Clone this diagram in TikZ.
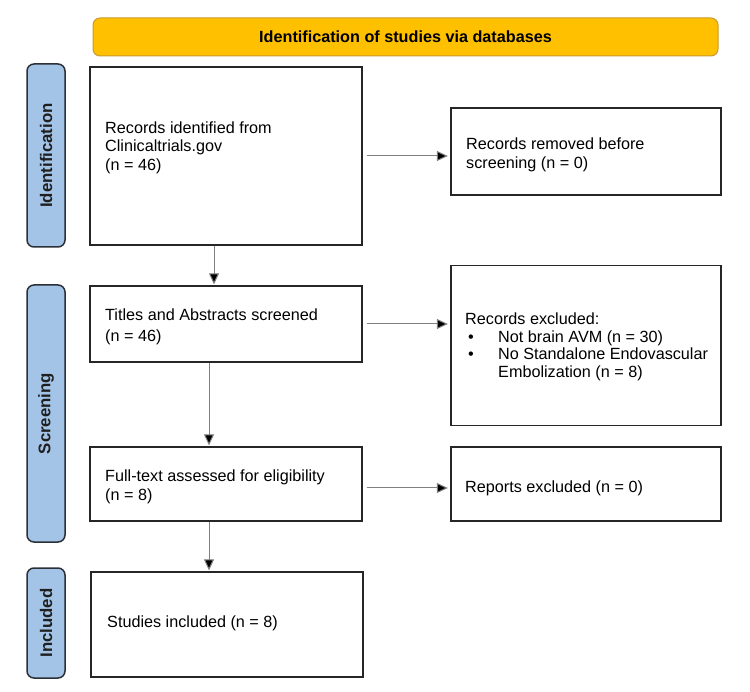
\documentclass[tikz,border=0pt]{standalone}
\usepackage{fontspec}
\setmainfont{Liberation Sans}
\usetikzlibrary{arrows.meta,calc}
\definecolor{hdrfill}{HTML}{FFC000}
\definecolor{hdrline}{HTML}{C99A2E}
\definecolor{barfill}{HTML}{A3C4E6}
\definecolor{barline}{HTML}{2B2F36}
\definecolor{arrline}{HTML}{808080}
\tikzset{
  boxnode/.style={draw=black!85, line width=1.3pt, minimum width=#1, inner sep=0pt},
  hdrnode/.style={draw=hdrline, fill=hdrfill, line width=1pt, rounded corners=7pt, inner sep=0pt,
     minimum width=625pt, minimum height=38pt, font=\fontsize{16.2}{19}\selectfont\bfseries},
  barnode/.style={draw=barline, fill=barfill, line width=1.5pt, rounded corners=7pt, inner sep=0pt,
     minimum width=38pt},
  barlabel/.style={rotate=90, font=\fontsize{16.8}{19}\selectfont\bfseries, text=black!88},
  txt/.style={anchor=west, inner sep=0pt, align=left, font=\fontsize{16.2}{18.6}\selectfont},
  arr/.style={draw=arrline, line width=1pt, -{Triangle[length=11pt,width=10pt,fill=black]}},
}
\begin{document}
\begin{tikzpicture}[x=1pt,y=-1pt]
\useasboundingbox (0,0) rectangle (750,692);
% header
\node[hdrnode] (hdr) at (405.5,37) {Identification of studies via databases};
% side bars
\node[barnode, minimum height=183pt] (barid) at (46,155.5) {};
\node[barlabel] (lblid) at (barid.center) {Identification};
\node[barnode, minimum height=257pt] (barsc) at (46,413.5) {};
\node[barlabel] (lblsc) at (barsc.center) {Screening};
\node[barnode, minimum height=110pt] (barin) at (46,623) {};
\node[barlabel] (lblin) at (barin.center) {Included};
% boxes
\node[boxnode=272pt, minimum height=178pt] (b1) at (226,156) {};
\node[boxnode=270pt, minimum height=87pt] (b2) at (586,151.5) {};
\node[boxnode=272pt, minimum height=76pt] (b3) at (226,324) {};
\node[boxnode=270pt, minimum height=160pt] (b4) at (586,345.5) {};
\node[boxnode=272pt, minimum height=74pt] (b5) at (226,484) {};
\node[boxnode=270pt, minimum height=74pt] (b6) at (586,484) {};
\node[boxnode=272pt, minimum height=105pt] (b7) at (227,624.5) {};
% texts
\node[txt] (t1) at (105,147.5) {Records identified from\\Clinicaltrials.gov\\(n = 46)};
\node[txt] (t2) at (466,155) {Records removed before\\screening (n = 0)};
\node[txt, font=\fontsize{16.2}{21}\selectfont] (t3) at (105,327) {Titles and Abstracts screened\\(n = 46)};
\node[txt, font=\fontsize{16.2}{17.5}\selectfont] (t4) at (465,347) {Records excluded:\\
  \makebox[33pt][l]{\hspace{3pt}\textbullet}Not brain AVM (n = 30)\\
  \makebox[33pt][l]{\hspace{3pt}\textbullet}No Standalone Endovascular\\
  \hspace*{33pt}Embolization (n = 8)};
\node[txt] (t5) at (105,487) {Full-text assessed for eligibility\\(n = 8)};
\node[txt] (t6) at (465,488) {Reports excluded (n = 0)};
\node[txt] (t7) at (107,623) {Studies included (n = 8)};
% connectors
\coordinate (d1) at ([xshift=-12pt]b1.south);
\coordinate (d3) at ([xshift=-17pt]b3.south);
\coordinate (d5) at ([xshift=-17pt]b5.south);
\draw[arr] ([xshift=4pt]b1.east) -- ([xshift=-2.5pt]b2.west |- b1.east);
\draw[arr] ([xshift=4pt]b3.east) -- ([xshift=-2.5pt]b4.west |- b3.east);
\draw[arr] ([xshift=4pt,yshift=-4pt]b5.east) -- ([xshift=-2.5pt,yshift=-4pt]b6.west |- b5.east);
\draw[arr] (d1) -- ([yshift=1pt]b3.north -| d1);
\draw[arr] (d3) -- ([yshift=1pt]b5.north -| d3);
\draw[arr] (d5) -- ([yshift=1pt]b7.north -| d5);
\end{tikzpicture}
\end{document}
